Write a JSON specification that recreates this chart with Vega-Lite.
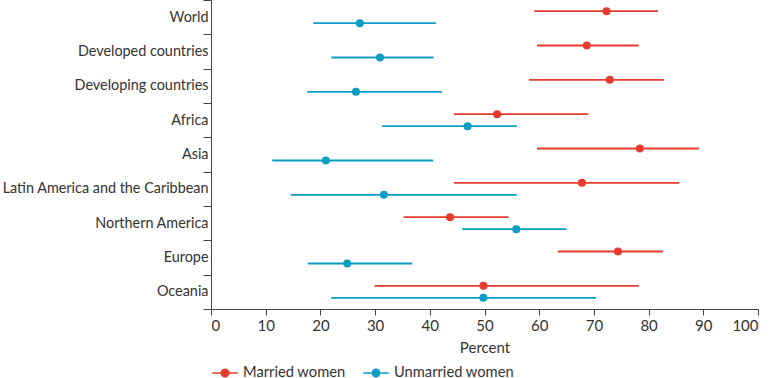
{
  "$schema": "https://vega.github.io/schema/vega-lite/v6.json",
  "width": 547,
  "height": 309,
  "autosize": {"type": "none"},
  "padding": {"left": 211, "top": 0, "right": 12, "bottom": 69},
  "config": {
    "font": "Lato",
    "view": {"stroke": null},
    "axis": {"labelFont": "Lato", "titleFont": "Lato", "labelFontSize": 15, "titleFontSize": 15, "labelColor": "#333333", "titleColor": "#333333", "domainColor": "#444444", "tickColor": "#444444", "titleFontWeight": "normal", "grid": false, "labelLimit": 0},
    "legend": {"labelFont": "Lato", "labelFontSize": 14.7, "labelColor": "#333333", "labelLimit": 0}
  },
  "data": {
    "values": [
      {"region": "World", "group": "Married women", "est": 72.3, "lo": 59.1, "hi": 81.7},
      {"region": "World", "group": "Unmarried women", "est": 27.2, "lo": 18.7, "hi": 41.1},
      {"region": "Developed countries", "group": "Married women", "est": 68.7, "lo": 59.6, "hi": 78.2},
      {"region": "Developed countries", "group": "Unmarried women", "est": 30.9, "lo": 22.0, "hi": 40.7},
      {"region": "Developing countries", "group": "Married women", "est": 72.9, "lo": 58.1, "hi": 82.8},
      {"region": "Developing countries", "group": "Unmarried women", "est": 26.5, "lo": 17.6, "hi": 42.2},
      {"region": "Africa", "group": "Married women", "est": 52.3, "lo": 44.4, "hi": 69.0},
      {"region": "Africa", "group": "Unmarried women", "est": 46.9, "lo": 31.3, "hi": 55.9},
      {"region": "Asia", "group": "Married women", "est": 78.4, "lo": 59.6, "hi": 89.2},
      {"region": "Asia", "group": "Unmarried women", "est": 21.0, "lo": 11.2, "hi": 40.6},
      {"region": "Latin America and the Caribbean", "group": "Married women", "est": 67.8, "lo": 44.4, "hi": 85.6},
      {"region": "Latin America and the Caribbean", "group": "Unmarried women", "est": 31.6, "lo": 14.6, "hi": 55.9},
      {"region": "Northern America", "group": "Married women", "est": 43.7, "lo": 35.2, "hi": 54.4},
      {"region": "Northern America", "group": "Unmarried women", "est": 55.8, "lo": 45.9, "hi": 65.0},
      {"region": "Europe", "group": "Married women", "est": 74.4, "lo": 63.4, "hi": 82.6},
      {"region": "Europe", "group": "Unmarried women", "est": 24.9, "lo": 17.7, "hi": 36.8},
      {"region": "Oceania", "group": "Married women", "est": 49.8, "lo": 29.9, "hi": 78.2},
      {"region": "Oceania", "group": "Unmarried women", "est": 49.8, "lo": 22.0, "hi": 70.4}
    ]
  },
  "encoding": {
    "y": {
      "field": "region", "type": "nominal",
      "scale": {"domain": ["World", "Developed countries", "Developing countries", "Africa", "Asia", "Latin America and the Caribbean", "Northern America", "Europe", "Oceania"], "paddingInner": 0, "paddingOuter": 0},
      "axis": {"title": null, "tickBand": "extent", "tickSize": 8, "labelPadding": -5, "labelFontSize": 14.4}
    },
    "yOffset": {
      "field": "group", "type": "nominal",
      "scale": {"domain": ["Married women", "Unmarried women"], "paddingInner": 0, "paddingOuter": 0.43}
    },
    "color": {
      "field": "group", "type": "nominal",
      "scale": {"domain": ["Married women", "Unmarried women"], "range": ["#E63B2E", "#0C9CC4"]},
      "legend": {
        "title": null, "orient": "bottom", "direction": "horizontal",
        "symbolType": "M-1,0H1M-0.29,0A0.29,0.29,0,1,1,0.29,0A0.29,0.29,0,1,1,-0.29,0",
        "symbolSize": 650, "symbolStrokeWidth": 1.6, "columnPadding": 14, "labelOffset": 4, "offset": 4,
        "encode": {"symbols": {"update": {"stroke": {"scale": "color", "field": "value"}, "fill": {"scale": "color", "field": "value"}}}}
      }
    }
  },
  "layer": [
    {
      "mark": {"type": "rule", "strokeWidth": 1.8},
      "encoding": {
        "x": {"field": "lo", "type": "quantitative", "scale": {"domain": [0, 100], "nice": false}, "axis": {"title": "Percent", "values": [0,10,20,30,40,50,60,70,80,90,100], "tickSize": 6, "labelPadding": 3, "titlePadding": 7}},
        "x2": {"field": "hi"}
      }
    },
    {
      "mark": {"type": "point", "filled": true, "size": 64, "opacity": 1},
      "encoding": {
        "x": {"field": "est", "type": "quantitative"}
      }
    }
  ]
}
